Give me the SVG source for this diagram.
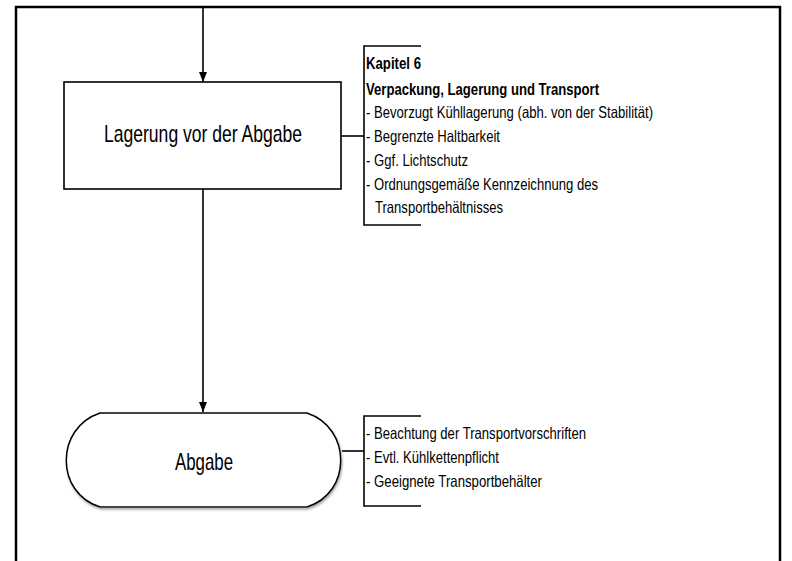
<svg xmlns="http://www.w3.org/2000/svg" width="792" height="561" viewBox="0 0 792 561">
<style>
.ln{stroke:#000;stroke-width:1.6;fill:none}
.nd{fill:#fff;stroke:#000;stroke-width:1.6}
.t{font-family:"Liberation Sans Narrow","Liberation Sans",Arial,sans-serif;fill:#000}
.big{font-size:24px}
.sm{font-size:16.5px}
.b{font-weight:bold}
</style>
<defs>
<marker id="ah" viewBox="0 0 10 10" refX="10" refY="5" markerWidth="10" markerHeight="10" markerUnits="userSpaceOnUse" orient="auto">
<path d="M0,1 L10,5 L0,9 Z" fill="#000"/>
</marker>
<filter id="sh" x="-10%" y="-10%" width="130%" height="130%">
<feDropShadow dx="1" dy="2" stdDeviation="1" flood-color="#888" flood-opacity="0.7"/>
</filter>
</defs>
<rect x="0" y="0" width="792" height="561" fill="#fff"/>
<path d="M16,561 L16,7 L780,7 L780,561" fill="none" stroke="#000" stroke-width="2.5"/>
<g id="connectors">
<line class="ln" x1="203" y1="7" x2="203" y2="82" marker-end="url(#ah)"/>
<line class="ln" x1="203" y1="189" x2="203" y2="412" marker-end="url(#ah)"/>
<line class="ln" x1="341" y1="136" x2="364" y2="136"/>
<line class="ln" x1="342" y1="451" x2="364" y2="451"/>
</g>
<g id="node-lagerung">
<rect class="nd" x="64" y="82" width="277" height="107"/>
<text class="t big" x="203" y="142" text-anchor="middle" textLength="198" lengthAdjust="spacingAndGlyphs">Lagerung vor der Abgabe</text>
</g>
<g id="note-kapitel6">
<path class="ln" d="M421,46 L364,46 L364,225 L421,225"/>
<text class="t sm b" x="366" y="69" textLength="55" lengthAdjust="spacingAndGlyphs">Kapitel 6</text>
<text class="t sm b" x="366" y="95" textLength="233" lengthAdjust="spacingAndGlyphs">Verpackung, Lagerung und Transport</text>
<text class="t sm" x="366" y="118" textLength="287" lengthAdjust="spacingAndGlyphs">- Bevorzugt Kühllagerung (abh. von der Stabilität)</text>
<text class="t sm" x="366" y="142" textLength="134" lengthAdjust="spacingAndGlyphs">- Begrenzte Haltbarkeit</text>
<text class="t sm" x="366" y="166" textLength="102" lengthAdjust="spacingAndGlyphs">- Ggf. Lichtschutz</text>
<text class="t sm" x="366" y="190" textLength="232" lengthAdjust="spacingAndGlyphs">- Ordnungsgemäße Kennzeichnung des</text>
<text class="t sm" x="375" y="213" textLength="128" lengthAdjust="spacingAndGlyphs">Transportbehältnisses</text>
</g>
<g id="node-abgabe">
<path class="nd" filter="url(#sh)" d="M100,413 L307,413 C352,428 352,493 307,507 L100,507 C55,493 55,428 100,413 Z"/>
<text class="t big" x="204" y="470" text-anchor="middle" textLength="58" lengthAdjust="spacingAndGlyphs">Abgabe</text>
</g>
<g id="note-abgabe">
<path class="ln" d="M421,416 L364,416 L364,506 L421,506"/>
<text class="t sm" x="366" y="439" textLength="220" lengthAdjust="spacingAndGlyphs">- Beachtung der Transportvorschriften</text>
<text class="t sm" x="366" y="463" textLength="133" lengthAdjust="spacingAndGlyphs">- Evtl. Kühlkettenpflicht</text>
<text class="t sm" x="366" y="487" textLength="176" lengthAdjust="spacingAndGlyphs">- Geeignete Transportbehälter</text>
</g>
</svg>
